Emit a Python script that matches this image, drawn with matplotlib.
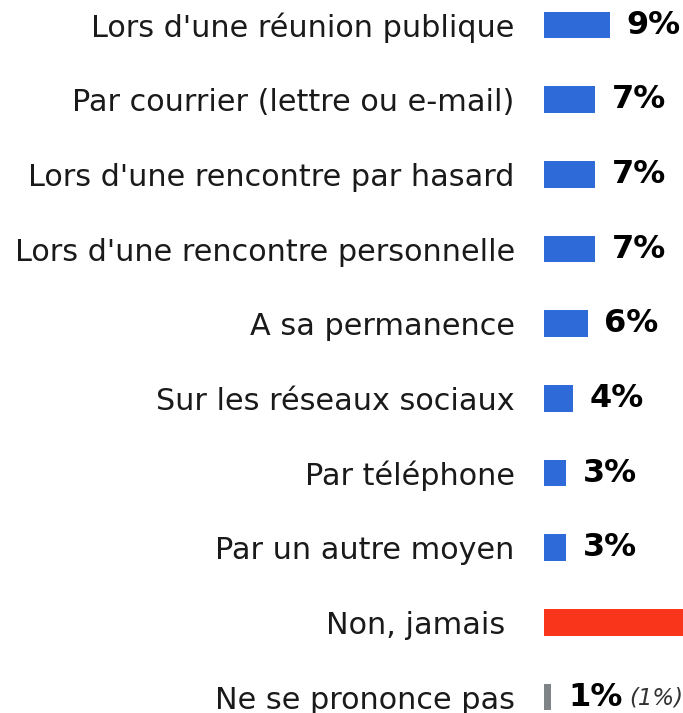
import matplotlib
matplotlib.use('Agg')
import matplotlib.pyplot as plt

# Données
categories = [
    "Lors d'une réunion publique",
    "Par courrier (lettre ou e-mail)",
    "Lors d'une rencontre par hasard",
    "Lors d'une rencontre personnelle",
    "A sa permanence",
    "Sur les réseaux sociaux",
    "Par téléphone",
    "Par un autre moyen",
    "Non, jamais ",
    "Ne se prononce pas",
]
values = [9, 7, 7, 7, 6, 4, 3, 3, 37, 1]
value_labels = ["9%", "7%", "7%", "7%", "6%", "4%", "3%", "3%", "", "1%"]
extra_labels = ["", "", "", "", "", "", "", "", "", "(1%)"]

BLUE = '#2F6AD9'
RED = '#F9361C'
GREY = '#7F8487'
colors = [BLUE] * 8 + [RED, GREY]

plt.rcParams['font.family'] = ['DejaVu Sans']

W, H = 683, 713
fig = plt.figure(figsize=(W / 100, H / 100), dpi=100)
ax = fig.add_axes([544 / W, 0, 1 - 544 / W, 1])

pos = list(range(len(categories)))
ax.barh(pos, values, height=0.36, color=colors)

px_per_unit = 7.3
ax.set_xlim(0, (W - 544) / px_per_unit)
row = 74.67
ax.set_ylim((H - 25) / row, -25 / row)

ax.set_yticks(pos)
ax.set_yticklabels(categories, fontsize=21.8, color='#1a1a1a')
ax.tick_params(axis='y', length=0, pad=21)
ax.set_xticks([])
for s in ax.spines.values():
    s.set_visible(False)

for i, (v, lab, ext) in enumerate(zip(values, value_labels, extra_labels)):
    if not lab:
        continue
    ax.annotate(lab, xy=(v, i), xytext=(12, 0), textcoords='offset points',
                va='center', ha='left', fontsize=23, fontweight='bold',
                color='black')
    if ext:
        ax.annotate(ext, xy=(v, i), xytext=(56, -1), textcoords='offset points',
                    va='center', ha='left', fontsize=16.5, fontstyle='italic',
                    color='#333333')

fig.savefig('out.png', dpi=100)
